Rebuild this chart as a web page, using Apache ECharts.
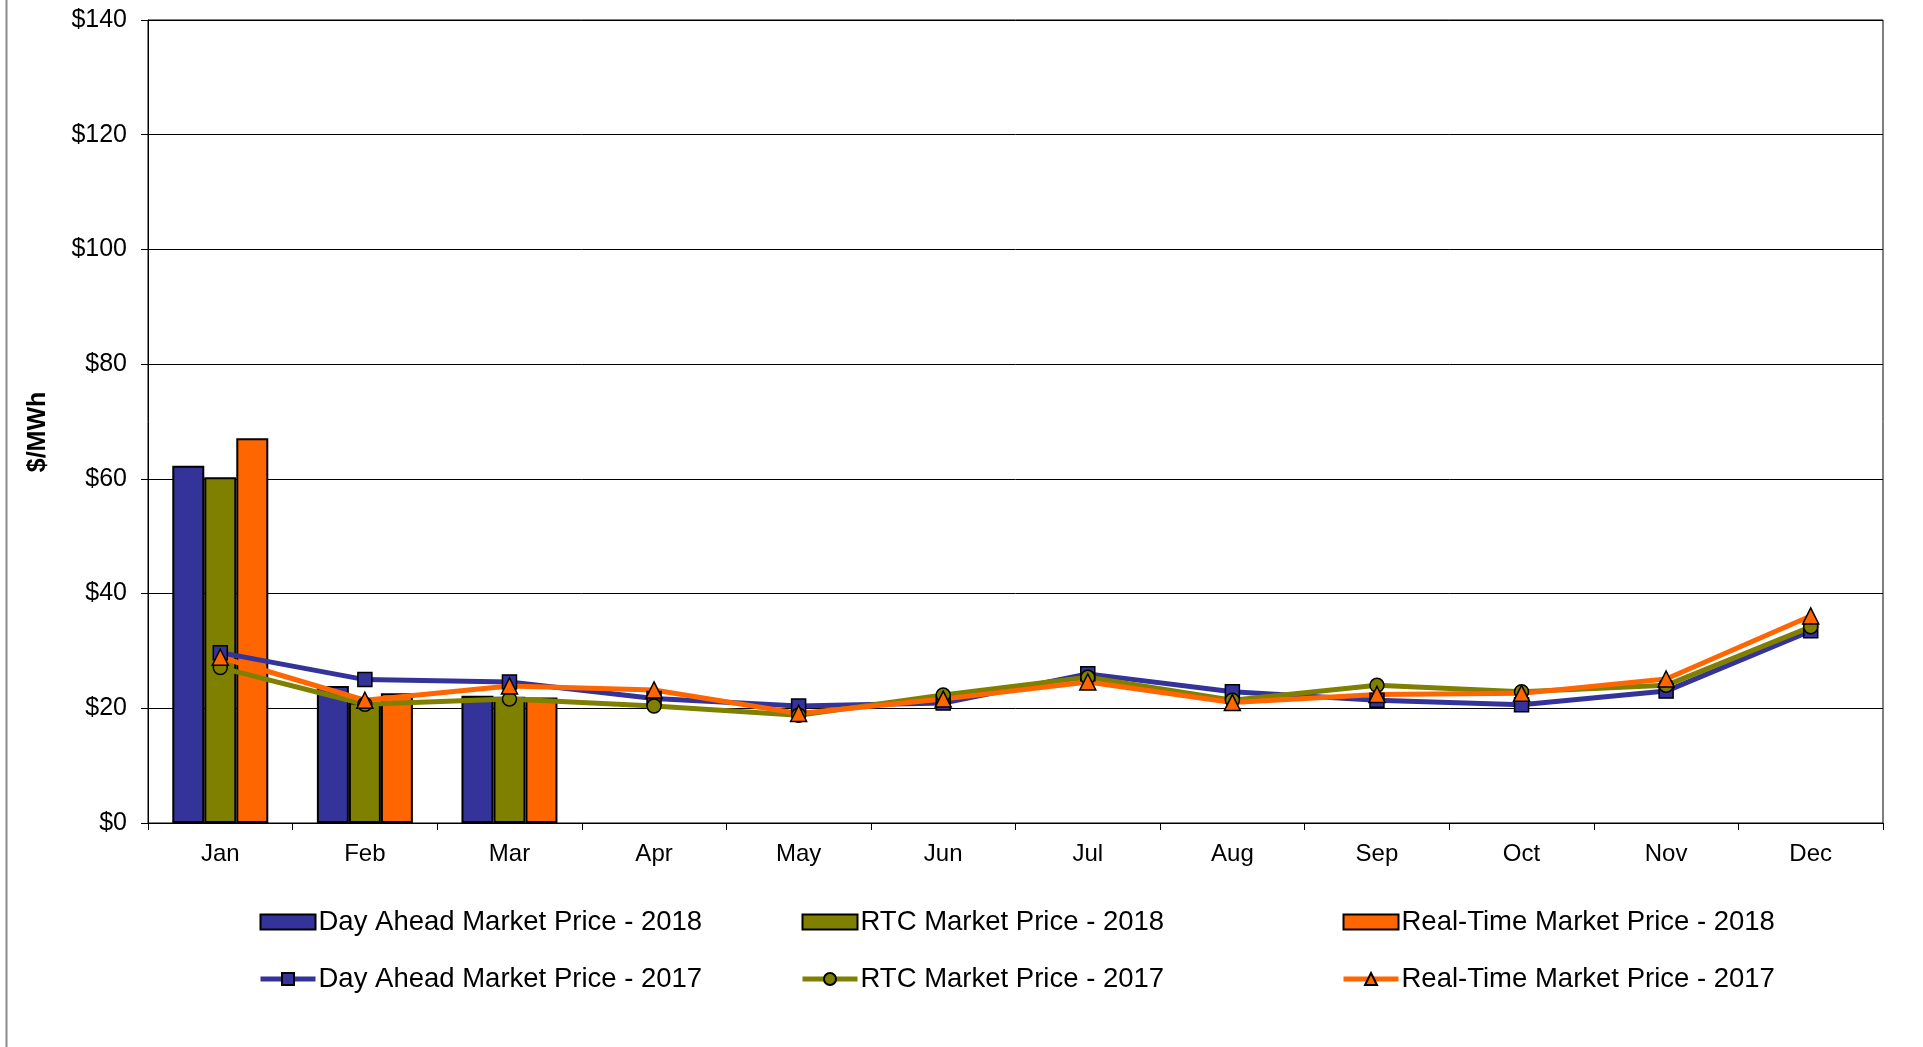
<!DOCTYPE html>
<html>
<head>
<meta charset="utf-8">
<title>Market Price</title>
<script src="https://cdn.jsdelivr.net/npm/echarts@6/dist/echarts.min.js"></script>
<style>
    html, body { margin: 0; padding: 0; background: #fff; }
    #main { width: 1923px; height: 1047px; }
</style>
</head>
<body>
<div id="main"></div>
<script>
// 月份
var months = ['Jan', 'Feb', 'Mar', 'Apr', 'May', 'Jun', 'Jul', 'Aug', 'Sep', 'Oct', 'Nov', 'Dec'];

// 2018 柱状数据 ($/MWh)
var dayAhead2018 = [62.3, 23.9, 22.2];
var rtc2018 = [60.3, 21.0, 22.0];
var realTime2018 = [67.1, 22.6, 21.9];

// 2017 折线数据 ($/MWh)
var dayAhead2017 = [29.7, 25.0, 24.6, 21.7, 20.4, 20.9, 26.0, 22.9, 21.4, 20.6, 23.0, 33.5];
var rtc2017 = [27.1, 20.7, 21.6, 20.4, 18.8, 22.3, 25.4, 21.4, 24.0, 22.9, 24.0, 34.2];
var realTime2017 = [28.9, 21.4, 23.9, 23.2, 19.1, 21.6, 24.6, 21.0, 22.4, 22.6, 25.1, 36.1];

// y轴刻度
var yTicks = [0, 20, 40, 60, 80, 100, 120, 140];

var names = [
    'Day Ahead Market Price - 2018', 'RTC Market Price - 2018', 'Real-Time Market Price - 2018',
    'Day Ahead Market Price - 2017', 'RTC Market Price - 2017', 'Real-Time Market Price - 2017'
];
var colors = ['#333399', '#808000', '#FF6600'];
var font = '"Liberation Sans", Arial, sans-serif';

var myChart = echarts.init(document.getElementById('main'));

function barSeries(name, data, color) {
    return {
        name: name,
        type: 'bar',
        data: data,
        barWidth: 32,
        barGap: '0%',
        itemStyle: { color: color, borderColor: '#000', borderWidth: 2 },
        z: 2
    };
}

function lineSeries(name, data, color, symbol, size) {
    return {
        name: name,
        type: 'line',
        data: data,
        symbol: symbol,
        symbolSize: size,
        lineStyle: { color: color, width: 5 },
        itemStyle: { color: color, borderColor: '#000', borderWidth: 1.5 },
        z: 3
    };
}

// 图例按列排, 每列两项
function legendCol(left, a, b) {
    return {
        orient: 'vertical',
        left: left,
        top: 903,
        itemWidth: 55,
        itemHeight: 15,
        itemGap: 29,
        selectedMode: false,
        textStyle: { fontSize: 27.5, color: '#000', fontFamily: font, lineHeight: 27, padding: [0, 0, 0, -2] },
        data: [
            { name: a, icon: 'rect' },
            { name: b, lineStyle: { width: 5 } }
        ]
    };
}

var option = {
    animation: false,
    backgroundColor: '#fff',
    grid: {
        left: 148, right: 40, top: 20, bottom: 224,
        show: true, borderColor: '#000', borderWidth: 1
    },
    legend: [
        legendCol(253, names[0], names[3]),
        legendCol(795, names[1], names[4]),
        legendCol(1336, names[2], names[5])
    ],
    graphic: [{
        type: 'line',
        shape: { x1: 6.5, y1: 0, x2: 6.5, y2: 1047 },
        style: { stroke: '#8a8a8a', lineWidth: 2 }
    }, {
        // y轴标题
        type: 'text',
        x: 38,
        y: 432,
        rotation: Math.PI / 2,
        style: {
            text: '$/MWh',
            font: 'bold 25px ' + font,
            fill: '#000',
            textAlign: 'center',
            textVerticalAlign: 'middle'
        }
    }],
    xAxis: {
        type: 'category',
        data: months,
        boundaryGap: true,
        axisLine: { lineStyle: { color: '#000', width: 1 } },
        axisTick: { show: true, length: 7, lineStyle: { color: '#000' } },
        axisLabel: { color: '#000', fontSize: 24, fontFamily: font, margin: 19.5 }
    },
    yAxis: {
        type: 'value',
        min: yTicks[0],
        max: yTicks[yTicks.length - 1],
        interval: 20,
        axisLine: { show: true, lineStyle: { color: '#000', width: 1 } },
        axisTick: { show: true, length: 7, lineStyle: { color: '#000' } },
        axisLabel: {
            color: '#000', fontSize: 25, fontFamily: font, margin: 21,
            formatter: function (v) { return '$' + v; }
        },
        splitLine: { lineStyle: { color: '#000', width: 1 } }
    },
    series: [
        barSeries(names[0], dayAhead2018, colors[0]),
        barSeries(names[1], rtc2018, colors[1]),
        barSeries(names[2], realTime2018, colors[2]),
        lineSeries(names[3], dayAhead2017, colors[0], 'rect', 14),
        lineSeries(names[4], rtc2017, colors[1], 'circle', 14),
        lineSeries(names[5], realTime2017, colors[2], 'triangle', 16)
    ]
};

myChart.setOption(option);
</script>
</body>
</html>
